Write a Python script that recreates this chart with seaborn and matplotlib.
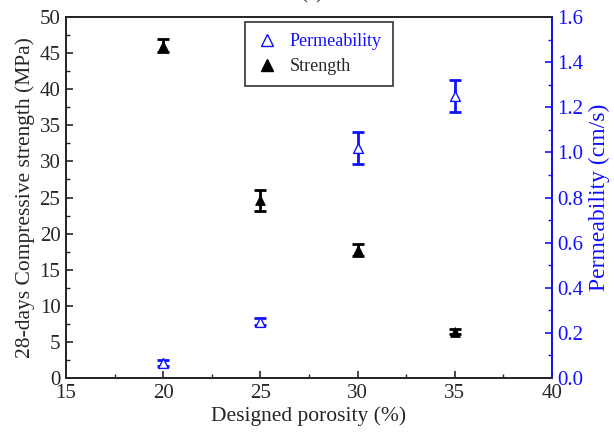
import matplotlib
matplotlib.use("Agg")
import matplotlib.pyplot as plt
import seaborn as sns
import pandas as pd
from matplotlib.ticker import MultipleLocator, FormatStrFormatter
from matplotlib.lines import Line2D

porosity = [20, 25, 30, 35]
strength = [46.0, 24.6, 17.7, 6.4]
strength_err = [0.9, 1.5, 0.8, 0.35]
permeability = [0.066, 0.25, 1.02, 1.25]
permeability_err = [0.012, 0.015, 0.07, 0.07]

sns.set_style("ticks")
plt.rcParams['font.family'] = ['Liberation Serif', 'DejaVu Serif']
plt.rcParams['mathtext.fontset'] = 'stix'

df = pd.DataFrame({"porosity": porosity, "strength": strength, "permeability": permeability})
blue = "#1010ff"

fig = plt.figure(figsize=(6.14, 4.43), dpi=100)
ax = fig.add_axes([0.1075, 0.1467, 0.7915, 0.8149])
ax2 = ax.twinx()

ax.errorbar(porosity, strength, yerr=strength_err, fmt='none', ecolor='black', elinewidth=2, capsize=4, capthick=2)
sns.scatterplot(data=df, x="porosity", y="strength", marker="^", s=50, color="black",
                edgecolor="black", ax=ax, legend=False, zorder=3)

ax2.errorbar(porosity, permeability, yerr=permeability_err, fmt='none', ecolor=blue, elinewidth=2, capsize=4, capthick=2)
sns.scatterplot(data=df, x="porosity", y="permeability", marker="^", s=50, facecolor="white",
                edgecolor=blue, linewidth=1, ax=ax2, legend=False, zorder=3)

ax.set_xlim(15, 40)
ax.set_ylim(0, 50)
ax2.set_ylim(0, 1.6)
ax.xaxis.set_major_locator(MultipleLocator(5))
ax.xaxis.set_minor_locator(MultipleLocator(2.5))
ax.yaxis.set_major_locator(MultipleLocator(5))
ax.yaxis.set_minor_locator(MultipleLocator(2.5))
ax2.yaxis.set_major_locator(MultipleLocator(0.2))
ax2.yaxis.set_minor_locator(MultipleLocator(0.1))
ax2.yaxis.set_major_formatter(FormatStrFormatter('%.1f'))

for a in (ax, ax2):
    a.tick_params(which='both', direction='in', labelsize=15, pad=4)
    a.tick_params(which='major', length=5, width=1.2)
    a.tick_params(which='minor', length=3, width=1)
    for sp in a.spines.values():
        sp.set_visible(True)
        sp.set_linewidth(1.3)
ax.tick_params(top=False, which='both')
ax2.tick_params(axis='y', which='both', colors=blue, labelcolor=blue)
ax2.spines['right'].set_color(blue)

ax.set_xlabel("Designed porosity (%)", fontsize=15.5, labelpad=3)
ax.set_ylabel("28-days Compressive strength (MPa)", fontsize=15.5, labelpad=3)
ax2.set_ylabel("Permeability (cm/s)", fontsize=17, color=blue, labelpad=4)

handles = [Line2D([], [], marker='^', linestyle='none', markerfacecolor='white', markeredgecolor=blue, markersize=8),
           Line2D([], [], marker='^', linestyle='none', color='black', markersize=8)]
leg = ax.legend(handles, ["Permeability", "Strength"], loc='upper left', bbox_to_anchor=(0.368, 0.986),
                fontsize=13, frameon=True, fancybox=False, edgecolor='black', handletextpad=0.7,
                handlelength=1.2, borderpad=0.6, labelspacing=0.45, borderaxespad=0)
leg.get_frame().set_linewidth(1.2)
leg.get_texts()[0].set_color(blue)

fig.text(0.508, 0.993, "(a)", fontsize=15, ha='center', va='bottom')

fig.savefig("out.png", dpi=100)
